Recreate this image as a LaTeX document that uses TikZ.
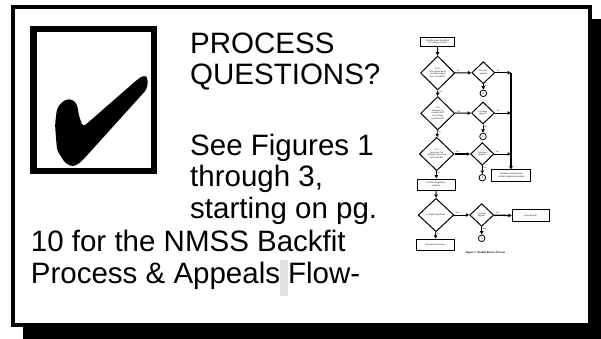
\documentclass[tikz,border=0pt]{standalone}
\usepackage{fontspec}
\setmainfont{Liberation Sans}
\newfontfamily\tnr{Liberation Serif}
\usetikzlibrary{shapes.geometric,arrows.meta}
\definecolor{hlgray}{RGB}{224,224,224}
\tikzset{
  bigtext/.style={anchor=base west, inner sep=0, font=\fontsize{29.5}{33}\selectfont},
  fbox/.style={draw, line width=1.0, inner sep=0, align=center, font=\tnr\fontsize{2.4}{2.8}\selectfont},
  fdia/.style={diamond, draw, line width=1.0, inner sep=0, aspect=1, align=center, font=\tnr\fontsize{2.4}{2.8}\selectfont},
  fcirc/.style={circle, draw, line width=0.8, minimum size=6.6, inner sep=0, font=\tnr\fontsize{2.6}{2.6}\selectfont},
  farr/.style={-{Triangle[open, length=3.4, width=3.4]}, line width=0.9},
  flab/.style={font=\tnr\fontsize{2.2}{2.2}\selectfont, inner sep=0.6},
}
\begin{document}
\begin{tikzpicture}[x=1pt,y=-1pt]
\useasboundingbox (0,0) rectangle (601,339);
% frame with shadow
\fill[black] (23,19) rectangle (601,339);
\draw[line width=4.6, fill=white] (13,7) rectangle (590,325);
% check box
\draw[line width=6.5] (33.3,29.2) rectangle (154,171.2);
\fill[black, rounded corners=3.5pt] (55,125) -- (57,108) -- (64,100) -- (72,99) -- (77,104) -- (79,116) -- (83,127) -- (138,79) -- (144,75) -- (148,78) -- (147,89) -- (81,162) -- (73,167) -- (65,163) -- (57,150) -- cycle;
% texts
\node[bigtext] (t1) at (190,53.3) {PROCESS};
\node[bigtext] (t2) at (190,85) {QUESTIONS?};
\node[bigtext] (t3) at (190,155) {See Figures 1};
\node[bigtext] (t4) at (190,186.7) {through 3,};
\node[bigtext] (t5) at (190,218.3) {starting on pg.};
\node[bigtext] (t6) at (30.7,251) {10 for the NMSS Backfit};
\node[bigtext] (t7) at (30.7,283) {Process \& Appeals{\setlength\fboxsep{0pt}\colorbox{hlgray}{\rule[-12.5pt]{0pt}{36pt}\hspace{8pt}}}Flow-};
% flowchart
\node[fbox, minimum width=33.6, minimum height=9.4] (b1) at (437.5,42) {Backfit issue identified\\by licensee or staff};
\node[fdia, minimum width=34.3, minimum height=34] (d1) at (437.7,73) {Is it a\\new requirement\\or staff position\\(i.e., a backfit)?};
\node[fdia, minimum width=23, minimum height=22] (d2) at (483.3,72.7) {Licensee\\appeal?};
\node[fcirc] (a1) at (483.3,93.3) {A};
\node[fdia, minimum width=34, minimum height=33.4] (d3) at (437.7,113.3) {Is it\\necessary to\\comply with\\an existing\\requirement?};
\node[fdia, minimum width=23, minimum height=22] (d4) at (483,113) {Licensee\\appeal?};
\node[fcirc] (a2) at (483,136.5) {A};
\node[fdia, minimum width=34.7, minimum height=33.4] (d5) at (436.7,154) {Is it\\necessary for\\adequate protection\\of the public?};
\node[fdia, minimum width=23.3, minimum height=22.7] (d6) at (482.3,154) {Licensee\\appeal?};
\node[fcirc] (a3) at (482.3,177.7) {A};
\node[fbox, minimum width=39.3, minimum height=11.7] (bp) at (511.3,175.8) {Document and proceed\\without regulatory analysis};
\node[fbox, minimum width=37.7, minimum height=11] (br) at (436.2,184.5) {Perform Regulatory\\analysis};
\node[fdia, minimum width=35.7, minimum height=33.4] (d7) at (436,215) {Is backfit justified?};
\node[fdia, minimum width=24, minimum height=22.7] (d8) at (481.7,215) {Licensee\\appeal?};
\node[fcirc] (a4) at (481.7,238.3) {A};
\node[fbox, minimum width=37, minimum height=11.7] (bi) at (530.8,215.8) {Issue backfit};
\node[fbox, minimum width=37.6, minimum height=11.7] (bc) at (435.5,245) {Document and close};
\node[font=\tnr\bfseries\fontsize{2.8}{3}\selectfont, inner sep=0] (cap) at (485.5,252.7) {Figure 1: Backfit Review Process};
\coordinate (j1) at (511,72.7);
\coordinate (j2) at (511,113);
\coordinate (j3) at (511,154);
% connectors
\draw[farr] (b1) -- (d1);
\draw[farr] (d1) -- node[flab, above, pos=0.2]{No} (d2);
\draw[farr] (d1) -- node[flab, right, pos=0.2]{Yes} (d3);
\draw[farr] (d2) -- node[flab, above, pos=0.2]{No} (j1);
\draw[farr] (d2) -- node[flab, right, pos=0.25]{Yes} (a1);
\draw[farr] (d3) -- node[flab, above, pos=0.2]{Yes} (d4);
\draw[farr] (d3) -- node[flab, right, pos=0.2]{No} (d5);
\draw[farr] (d4) -- node[flab, above, pos=0.2]{No} (j2);
\draw[farr] (d4) -- node[flab, right, pos=0.25]{Yes} (a2);
\draw[farr, line width=1.3] (d5) -- node[flab, above, pos=0.2]{Yes} (d6);
\draw[farr] (d5) -- node[flab, right, pos=0.25]{No} (br);
\draw[farr] (d6) -- node[flab, above, pos=0.2]{No} (j3);
\draw[farr] (d6) -- node[flab, right, pos=0.25]{Yes} (a3);
\draw[farr, line width=1.4] (j1) -- (j1 |- bp.north);
\draw[farr] (br) -- (d7);
\draw[farr] (d7) -- node[flab, above, pos=0.2]{Yes} (d8);
\draw[farr] (d7) -- node[flab, right, pos=0.25]{No} (bc);
\draw[farr, line width=1.3] (d8) -- node[flab, above, pos=0.2]{No} (bi);
\draw[farr] (d8) -- node[flab, right, pos=0.25]{Yes} (a4);
\end{tikzpicture}
\end{document}
